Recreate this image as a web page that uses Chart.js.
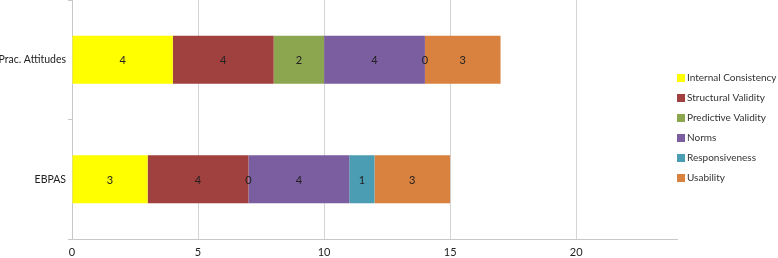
<!DOCTYPE html>
<html>
<head>
<meta charset="utf-8">
<script src="https://cdn.jsdelivr.net/npm/chart.js@4/dist/chart.umd.min.js"></script>
<style>
  html, body { margin: 0; padding: 0; background: #fff; }
  #wrap { width: 778px; height: 258px; position: relative; }
</style>
</head>
<body>
<div id="wrap"><canvas id="mycanvas"></canvas></div>
<script>
var categories = ["Prac. Attitudes", "EBPAS"];
var seriesNames = ["Internal Consistency", "Structural Validity", "Predictive Validity", "Norms", "Responsiveness", "Usability"];
var internalConsistency = [4, 3];
var structuralValidity = [4, 4];
var predictiveValidity = [2, 0];
var norms = [4, 4];
var responsiveness = [0, 1];
var usability = [3, 3];
var xTicks = [0, 5, 10, 15, 20];

var colors = ["#FFFF00", "#A0403F", "#8CA650", "#7B5EA0", "#4A9DB3", "#D9813E"];
var values = [internalConsistency, structuralValidity, predictiveValidity, norms, responsiveness, usability];

var font = "Lato, 'Open Sans', sans-serif";

var datasets = [];
for (var i = 0; i < seriesNames.length; i++) {
  datasets.push({
    label: seriesNames[i],
    data: values[i],
    backgroundColor: colors[i],
    borderWidth: 0,
    barPercentage: 0.8,
    categoryPercentage: 0.5
  });
}

// value labels in the middle of each segment (zeros too)
var valueLabels = {
  id: "valueLabels",
  afterDatasetsDraw: function(chart) {
    var ctx = chart.ctx;
    ctx.save();
    ctx.font = "11px " + font;
    ctx.fillStyle = "#222";
    ctx.textAlign = "center";
    ctx.textBaseline = "middle";
    chart.data.datasets.forEach(function(ds, di) {
      var meta = chart.getDatasetMeta(di);
      meta.data.forEach(function(el, j) {
        var p = el.getCenterPoint();
        ctx.fillText(String(ds.data[j]), p.x, p.y + 1);
      });
    });
    ctx.restore();
  }
};

// legend on the right, drawn by hand so it sits where the original has it
var sideLegend = {
  id: "sideLegend",
  afterDraw: function(chart) {
    var ctx = chart.ctx;
    var x = chart.chartArea.right;
    var y0 = 78;
    ctx.save();
    ctx.font = "10px " + font;
    ctx.textBaseline = "middle";
    chart.data.datasets.forEach(function(ds, i) {
      var y = y0 + i * 20;
      ctx.fillStyle = ds.backgroundColor;
      ctx.fillRect(x, y - 4, 8, 8);
      ctx.fillStyle = "#333";
      ctx.fillText(ds.label, x + 10, y);
    });
    ctx.restore();
  }
};

var ctx = document.getElementById("mycanvas");

var barChart = new Chart(ctx, {
  type: "bar",
  data: { labels: categories, datasets: datasets },
  plugins: [valueLabels, sideLegend],
  options: {
    indexAxis: "y",
    responsive: true,
    maintainAspectRatio: false,
    animation: false,
    layout: { padding: { left: 0, right: 101, top: 0, bottom: 0 } },
    plugins: {
      legend: { display: false },
      tooltip: { enabled: false }
    },
    scales: {
      x: {
        stacked: true,
        min: 0,
        max: 24,
        afterBuildTicks: function(axis) {
          axis.ticks = xTicks.map(function(v) { return { value: v }; });
        },
        afterFit: function(axis) { axis.height = 19; },
        grid: {
          color: "#D4D4D4",
          lineWidth: 1,
          tickLength: 0,
          drawTicks: false
        },
        border: { color: "#C8C8C8" },
        ticks: {
          color: "#222",
          padding: 7,
          font: { family: font, size: 11 }
        }
      },
      y: {
        stacked: true,
        afterFit: function(axis) {
          axis.width = 72;
          axis.paddingTop = 0;
          axis.paddingBottom = 0;
        },
        grid: {
          drawOnChartArea: false,
          color: "#C8C8C8",
          tickLength: 4
        },
        border: { color: "#C8C8C8" },
        ticks: {
          color: "#222",
          padding: 2,
          font: { family: font, size: 10.5 }
        }
      }
    }
  }
});
</script>
</body>
</html>
